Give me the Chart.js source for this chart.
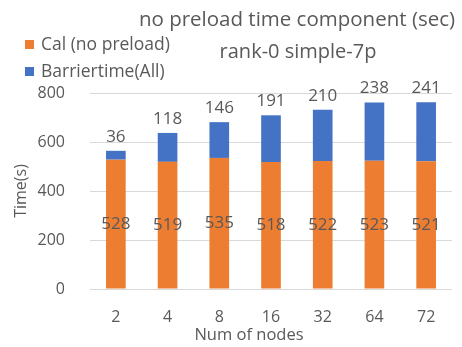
<!DOCTYPE html>
<html>
<head>
<meta charset="utf-8">
<script src="https://cdn.jsdelivr.net/npm/chart.js@4.4.1/dist/chart.umd.min.js"></script>
<style>
  html, body { margin: 0; padding: 0; background: #fff; }
  #wrap { width: 462px; height: 347px; position: relative; }
</style>
</head>
<body>
<div id="wrap"><canvas id="c" width="462" height="347"></canvas></div>
<script>
// Node counts and per-component times (seconds)
const nodes = ['2', '4', '8', '16', '32', '64', '72'];
const calTime = [528, 519, 535, 518, 522, 523, 521];
const barrierTime = [36, 118, 146, 191, 210, 238, 241];
const yTicks = [0, 200, 400, 600, 800];
const titleLines = ['no preload time component (sec)', 'rank-0 simple-7p'];
const xAxisTitle = 'Num of nodes';

const FONT = "'Open Sans', sans-serif";
const TEXT = '#595959';

// Value labels: inside the bottom segment, above the stacked top
const valueLabels = {
  id: 'valueLabels',
  afterDatasetsDraw(chart) {
    const ctx = chart.ctx;
    ctx.save();
    ctx.font = '17px ' + FONT;
    ctx.fillStyle = TEXT;
    ctx.textAlign = 'center';
    ctx.textBaseline = 'middle';
    const m0 = chart.getDatasetMeta(0), m1 = chart.getDatasetMeta(1);
    m0.data.forEach((bar, i) => {
      const mid = (bar.y + bar.base) / 2;
      ctx.fillText(String(chart.data.datasets[0].data[i]), bar.x, mid);
    });
    m1.data.forEach((bar, i) => {
      ctx.fillText(String(chart.data.datasets[1].data[i]), bar.x, bar.y - 14);
    });
    ctx.restore();
  }
};

// Title block, legend and the x-axis caption
const header = {
  id: 'header',
  afterDraw(chart) {
    const ctx = chart.ctx;
    ctx.save();
    ctx.fillStyle = TEXT;
    ctx.textBaseline = 'middle';
    ctx.textAlign = 'center';
    ctx.font = '20.5px ' + FONT;
    ctx.fillText(titleLines[0], 297, 20);
    ctx.font = '20px ' + FONT;
    ctx.fillText(titleLines[1], 298, 52);
    ctx.font = '16.5px ' + FONT;
    ctx.fillText(xAxisTitle, 249, 335);
    ctx.textAlign = 'left';
    ctx.font = '17.5px ' + FONT;
    chart.data.datasets.forEach((ds, i) => {
      const y = 45 + i * 27;
      ctx.fillStyle = ds.backgroundColor;
      ctx.fillRect(25, y - 5, 9, 9);
      ctx.fillStyle = TEXT;
      ctx.fillText(ds.label, 41, y);
    });
    ctx.restore();
  }
};

new Chart(document.getElementById('c'), {
  type: 'bar',
  data: {
    labels: nodes,
    datasets: [
      { label: 'Cal (no preload)', data: calTime, backgroundColor: '#ED7D31' },
      { label: 'Barriertime(All)', data: barrierTime, backgroundColor: '#4472C4' }
    ]
  },
  options: {
    responsive: false,
    animation: false,
    devicePixelRatio: 1,
    layout: { padding: { top: 93, right: 10, left: 0, bottom: 0 } },
    plugins: { legend: { display: false }, title: { display: false }, tooltip: { enabled: false } },
    datasets: { bar: { categoryPercentage: 1, barPercentage: 0.38 } },
    scales: {
      x: {
        stacked: true,
        grid: { display: false },
        border: { display: false },
        ticks: { color: TEXT, font: { family: FONT, size: 16 }, padding: 11 },
        title: { display: false },
        afterFit(s) { s.height = 58; }
      },
      y: {
        stacked: true,
        min: 0, max: 800,
        afterBuildTicks(s) { s.ticks = yTicks.map(v => ({ value: v })); },
        grid: { color: '#d9d9d9', drawTicks: false, lineWidth: 1 },
        border: { display: false },
        ticks: { color: TEXT, font: { family: FONT, size: 16 }, padding: 25 },
        title: { display: true, text: 'Time(s)', color: TEXT, font: { family: FONT, size: 16 }, padding: { top: 12, bottom: 0 } },
        afterFit(s) { s.width = 90; }
      }
    }
  },
  plugins: [valueLabels, header]
});
</script>
</body>
</html>
